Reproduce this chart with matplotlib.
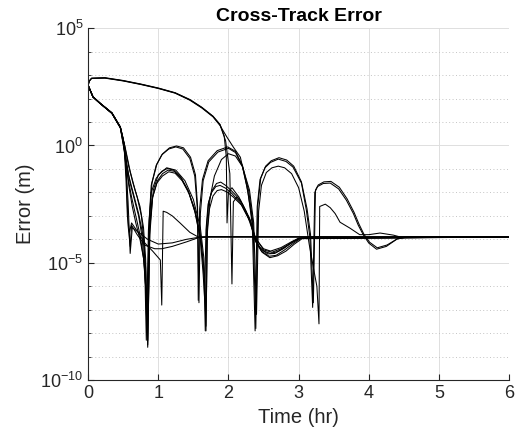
import numpy as np
import matplotlib
matplotlib.use("Agg")
import matplotlib.pyplot as plt
from matplotlib.ticker import FixedLocator, LogFormatterSciNotation, NullFormatter

plt.rcParams['font.family'] = ['Liberation Sans', 'DejaVu Sans']
plt.rcParams['mathtext.default'] = 'regular'

# Tiempos en horas, error como exponente log10
env_a_t = [0, 0.02, 0.05, 0.24, 0.5, 0.75, 1.0, 1.24, 1.45, 1.62, 1.78, 1.88, 1.98, 2.07, 2.17, 2.26,
           2.32, 2.36, 2.42, 2.5, 2.6, 2.7, 2.8, 2.9, 3.0, 3.2, 6.0]
env_a_log = [2.57, 2.75, 2.86, 2.87, 2.75, 2.6, 2.43, 2.23, 1.93, 1.6, 1.22, 0.85, 0.35, -0.07, -0.5, -1.7,
             -2.8, -3.7, -4.25, -4.5, -4.6, -4.52, -4.35, -4.12, -3.96, -3.9, -3.9]

env_b_t = [0, 0.02, 0.05, 0.24, 0.5, 0.75, 1.0, 1.24, 1.45, 1.62, 1.78, 1.88, 1.94, 1.97, 1.98, 2.0,
           2.05, 2.15, 2.25, 2.33, 2.38, 2.5, 2.6, 2.75, 2.9, 3.0, 6.0]
env_b_log = [2.57, 2.76, 2.87, 2.89, 2.77, 2.62, 2.45, 2.25, 1.96, 1.63, 1.25, 0.9, 0.4, -0.5, -3.3, -2.0,
             -1.8, -2.2, -2.8, -3.5, -3.95, -4.4, -4.5, -4.35, -4.1, -3.95, -3.9]

env_c_t = [0, 0.02, 0.05, 0.24, 0.5, 0.75, 1.0, 1.24, 1.45, 1.62, 1.78, 1.88, 1.96, 2.02, 2.05, 2.07,
           2.12, 2.2, 2.3, 2.38, 2.5, 2.62, 2.75, 2.9, 3.02, 6.0]
env_c_log = [2.57, 2.75, 2.86, 2.88, 2.76, 2.61, 2.44, 2.24, 1.95, 1.62, 1.24, 0.88, 0.2, -1.2, -5.9, -2.4,
             -2.2, -2.5, -3.1, -3.9, -4.45, -4.55, -4.4, -4.15, -3.95, -3.9]

upper_a_t = [0, 0.07, 0.17, 0.34, 0.46, 0.52, 0.58, 0.64, 0.7, 0.76, 0.8, 0.84, 0.87, 0.9,
             0.97, 1.05, 1.15, 1.25, 1.35, 1.45, 1.52, 1.56, 1.58, 1.6, 1.64, 1.72, 1.85, 2.0, 2.1, 2.2,
             2.28, 2.34, 2.38, 2.41, 2.45, 2.52, 2.6, 2.71, 2.82, 2.92, 3.04, 3.11, 3.16, 3.2, 3.23, 3.27,
             3.35, 3.45, 3.57, 3.68, 3.78, 3.85, 3.92, 4.0, 4.11, 4.25, 4.4, 4.54, 6.0]
upper_a_log = [2.57, 2.07, 1.8, 1.38, 0.78, 0.0, -0.9, -1.6, -2.2, -3.0, -4.2, -7.9, -3.2, -1.7,
               -0.85, -0.4, -0.15, -0.06, -0.15, -0.55, -1.3, -2.8, -6.7, -2.9, -1.5, -0.7, -0.28, -0.12, -0.3, -0.9,
               -2.0, -3.4, -7.9, -2.6, -1.45, -0.95, -0.72, -0.58, -0.68, -0.92, -1.6, -2.75, -3.9, -6.9, -2.0, -1.75,
               -1.62, -1.6, -1.85, -2.33, -2.9, -3.4, -3.8, -4.16, -4.42, -4.3, -3.99, -3.9, -3.9]

upper_b_t = [0, 0.07, 0.17, 0.34, 0.46, 0.53, 0.6, 0.67, 0.74, 0.79, 0.82, 0.85, 0.88, 0.91,
             0.98, 1.06, 1.16, 1.26, 1.36, 1.46, 1.53, 1.56, 1.57, 1.59, 1.63, 1.71, 1.84, 1.99, 2.1, 2.2,
             2.29, 2.35, 2.39, 2.42, 2.46, 2.53, 2.61, 2.72, 2.83, 2.93, 3.04, 3.12, 3.17, 3.21, 3.24, 3.28,
             3.36, 3.46, 3.58, 3.69, 3.79, 3.86, 3.93, 4.01, 4.12, 4.26, 4.41, 4.55, 6.0]
upper_b_log = [2.57, 2.08, 1.81, 1.4, 0.8, -0.1, -1.1, -1.9, -2.6, -3.5, -4.8, -8.3, -3.0, -1.6,
               -0.8, -0.36, -0.1, -0.02, -0.1, -0.5, -1.25, -2.6, -6.6, -2.7, -1.45, -0.65, -0.22, -0.06, -0.25, -0.85,
               -1.95, -3.3, -7.8, -2.5, -1.4, -0.88, -0.65, -0.52, -0.62, -0.88, -1.55, -2.7, -3.8, -6.7, -1.9, -1.68,
               -1.55, -1.53, -1.78, -2.27, -2.85, -3.35, -3.78, -4.12, -4.36, -4.24, -3.97, -3.9, -3.9]

lower_arc_t = [0, 0.07, 0.17, 0.34, 0.46, 0.52, 0.58, 0.65, 0.72, 0.78, 0.82, 0.85, 0.88, 0.93,
               1.0, 1.12, 1.25, 1.38, 1.5, 1.6, 1.65, 1.68, 1.7, 1.74, 1.8, 1.9, 2.0, 2.1, 2.2, 2.3,
               2.36, 2.4, 2.43, 2.47, 2.54, 2.62, 2.71, 2.8, 2.9, 3.0, 3.08, 3.15, 3.21, 3.26, 3.29, 3.3,
               3.38, 3.45, 3.52, 3.59, 3.73, 3.87, 4.0, 4.16, 4.35, 4.45, 6.0]
lower_arc_log = [2.57, 2.07, 1.8, 1.37, 0.76, -0.2, -1.3, -2.1, -2.9, -3.8, -5.2, -8.6, -3.5, -1.9,
                 -1.25, -0.95, -1.05, -1.5, -2.3, -3.5, -4.8, -7.9, -3.5, -2.2, -1.3, -0.6, -0.35, -0.45, -0.9, -1.9,
                 -3.3, -7.2, -2.8, -1.7, -1.15, -0.95, -0.88, -0.95, -1.2, -1.8, -2.8, -4.2, -5.2, -6.0, -7.6, -2.6,
                 -2.5, -2.65, -2.9, -3.27, -3.52, -3.8, -3.8, -3.73, -3.82, -3.9, -3.9]

low_a_t = [0, 0.07, 0.17, 0.34, 0.46, 0.51, 0.55, 0.6, 0.66, 0.72, 0.77, 0.81, 0.83, 0.86, 0.9,
           0.97, 1.05, 1.13, 1.22, 1.32, 1.42, 1.52, 1.6, 1.65, 1.67, 1.69, 1.72, 1.77, 1.83, 1.89, 1.96,
           2.05, 2.17, 2.31, 2.38, 2.46, 2.56, 2.66, 2.78, 2.9, 3.02, 6.0]
low_a_log = [2.57, 2.07, 1.8, 1.38, 0.77, 0.1, -0.8, -1.6, -2.3, -3.0, -3.9, -5.5, -8.3, -3.6, -2.0,
             -1.4, -1.1, -0.98, -1.05, -1.35, -1.9, -2.7, -3.8, -5.2, -7.9, -3.4, -2.4, -1.9, -1.62, -1.56, -1.7,
             -1.95, -2.33, -3.18, -4.0, -4.4, -4.62, -4.6, -4.4, -4.15, -3.95, -3.9]

low_b_t = [0, 0.07, 0.17, 0.34, 0.46, 0.52, 0.57, 0.62, 0.68, 0.74, 0.8, 0.83, 0.85, 0.88, 0.92,
           0.99, 1.06, 1.14, 1.23, 1.33, 1.43, 1.52, 1.6, 1.64, 1.66, 1.68, 1.71, 1.76, 1.82, 1.88, 1.96,
           2.05, 2.17, 2.31, 2.38, 2.47, 2.58, 2.68, 2.8, 2.92, 3.03, 6.0]
low_b_log = [2.57, 2.06, 1.79, 1.36, 0.75, -0.3, -1.4, -2.2, -3.0, -3.8, -5.0, -6.5, -8.5, -3.8, -2.2,
             -1.5, -1.2, -1.05, -1.1, -1.4, -1.95, -2.8, -4.0, -5.5, -6.5, -3.6, -2.5, -2.0, -1.75, -1.7, -1.82,
             -2.05, -2.45, -3.25, -4.05, -4.5, -4.72, -4.68, -4.45, -4.18, -3.96, -3.9]

low_c_t = [0, 0.07, 0.17, 0.34, 0.46, 0.53, 0.58, 0.63, 0.68, 0.74, 0.79, 0.82, 0.84, 0.87, 0.91,
           0.98, 1.06, 1.15, 1.24, 1.34, 1.44, 1.53, 1.61, 1.66, 1.68, 1.7, 1.73, 1.78, 1.84, 1.9, 1.98,
           2.07, 2.19, 2.32, 2.39, 2.48, 2.59, 2.7, 2.82, 2.94, 3.05, 6.0]
low_c_log = [2.57, 2.08, 1.8, 1.38, 0.77, -0.4, -1.7, -2.6, -3.3, -4.0, -4.8, -6.0, -8.0, -3.7, -2.3,
             -1.6, -1.3, -1.12, -1.18, -1.5, -2.05, -2.9, -4.1, -5.8, -7.7, -3.7, -2.7, -2.15, -1.92, -1.88, -1.98,
             -2.2, -2.55, -3.3, -4.1, -4.55, -4.78, -4.7, -4.5, -4.2, -3.97, -3.9]

thin_a_t = [0, 0.07, 0.17, 0.34, 0.46, 0.51, 0.54, 0.56, 0.59, 0.62, 0.7, 0.81, 0.92, 1.03, 1.05, 1.07,
            1.12, 1.2, 1.31, 1.45, 1.57, 1.7, 6.0]
thin_a_log = [2.57, 2.07, 1.8, 1.38, 0.77, 0.1, -1.4, -3.0, -3.7, -3.3, -3.65, -4.16, -4.5, -4.88, -6.8, -2.8,
              -2.85, -3.0, -3.3, -3.7, -3.9, -3.88, -3.9]

thin_b_t = [0, 0.07, 0.17, 0.34, 0.46, 0.52, 0.55, 0.57, 0.6, 0.62, 0.7, 0.81, 0.95, 1.05, 1.2, 1.41,
            1.57, 1.75, 6.0]
thin_b_log = [2.57, 2.07, 1.8, 1.38, 0.77, 0.0, -1.6, -3.4, -4.3, -3.4, -3.8, -4.25, -4.4, -4.4, -4.3, -4.1,
              -3.93, -3.9, -3.9]

thin_c_t = [0, 0.07, 0.17, 0.34, 0.46, 0.5, 0.54, 0.57, 0.6, 0.63, 0.72, 0.85, 1.0, 1.2, 1.4, 1.6, 6.0]
thin_c_log = [2.57, 2.07, 1.8, 1.38, 0.77, 0.3, -0.9, -2.4, -4.6, -3.5, -3.7, -4.0, -4.2, -4.15, -4.0, -3.9, -3.9]

runs = [
    (env_a_t, env_a_log), (env_b_t, env_b_log), (env_c_t, env_c_log),
    (upper_a_t, upper_a_log), (upper_b_t, upper_b_log), (lower_arc_t, lower_arc_log),
    (low_a_t, low_a_log), (low_b_t, low_b_log), (low_c_t, low_c_log),
    (thin_a_t, thin_a_log), (thin_b_t, thin_b_log), (thin_c_t, thin_c_log),
]

fig = plt.figure(figsize=(5.18, 4.4), dpi=100)
ax = fig.add_axes([0.170, 0.136, 0.813, 0.800])

for t, lg in runs:
    ax.plot(t, 10.0 ** np.array(lg), color='k', lw=0.75)

ax.set_yscale('log')
ax.set_xlim(0, 6)
ax.set_ylim(1e-10, 1e5)
ax.set_xticks(range(7))
ax.yaxis.set_major_locator(FixedLocator([1e-10, 1e-5, 1e0, 1e5]))
ax.yaxis.set_minor_locator(FixedLocator([10.0 ** k for k in range(-10, 6) if k % 5 != 0]))
ax.yaxis.set_major_formatter(LogFormatterSciNotation())
ax.yaxis.set_minor_formatter(NullFormatter())

ax.grid(which='major', color='#dedede', lw=0.7)
ax.grid(axis='y', which='minor', color='#c4c4c4', lw=0.7, ls=(0, (1, 2.5)))
ax.set_axisbelow(True)

for s in ['top', 'right']:
    ax.spines[s].set_visible(False)
for s in ['left', 'bottom']:
    ax.spines[s].set_color('#262626')
    ax.spines[s].set_linewidth(0.8)

ax.tick_params(which='both', direction='in', colors='#262626', labelsize=13)
ax.tick_params(which='major', length=4)
ax.tick_params(which='minor', length=2.5)

ax.set_xlabel('Time (hr)', fontsize=14.5, color='#262626')
ax.set_ylabel('Error (m)', fontsize=14.5, color='#262626')
ax.set_title('Cross-Track Error', fontsize=14, fontweight='bold', pad=5)

fig.savefig('out.png', dpi=100)
